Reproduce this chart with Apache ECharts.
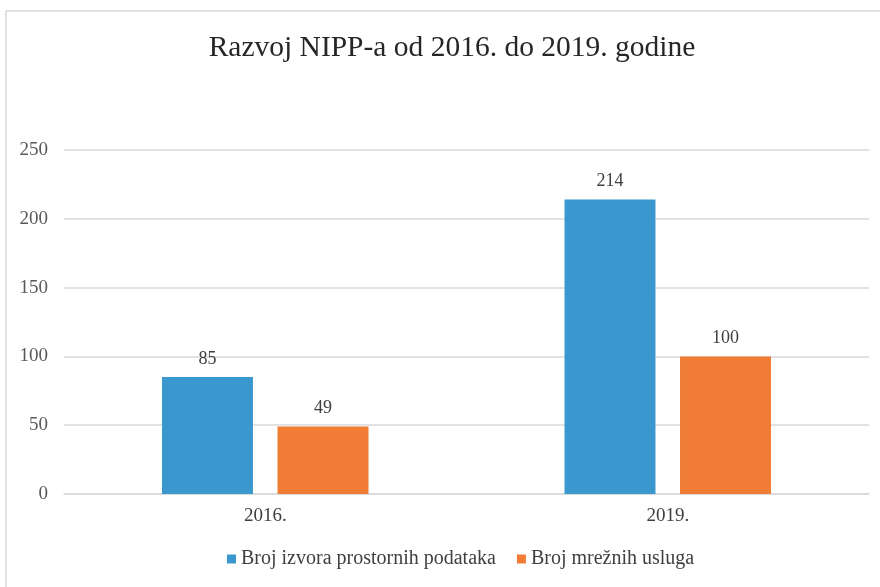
<!DOCTYPE html>
<html>
<head>
<meta charset="utf-8">
<script src="https://cdn.jsdelivr.net/npm/echarts@6/dist/echarts.min.js"></script>
<style>
  html, body { margin: 0; padding: 0; background: #fff; }
  #main { width: 880px; height: 587px; }
</style>
</head>
<body>
<div id="main"></div>
<script>
// podaci
var years = ['2016.', '2019.'];
var izvori = [85, 214];
var usluge = [49, 100];
var seriesNames = ['Broj izvora prostornih podataka', 'Broj mrežnih usluga'];

var chart = echarts.init(document.getElementById('main'));
var serif = '"Liberation Serif", "DejaVu Serif", serif';

var option = {
  backgroundColor: '#fff',
  animation: false,
  textStyle: { fontFamily: serif },
  graphic: [
    // okvir grafikona
    { type: 'line', shape: { x1: 6, y1: 11, x2: 880, y2: 11 }, style: { stroke: '#d9d9d9', lineWidth: 1.5 } },
    { type: 'line', shape: { x1: 6, y1: 11, x2: 6, y2: 587 }, style: { stroke: '#d9d9d9', lineWidth: 1.5 } }
  ],
  title: {
    text: 'Razvoj NIPP-a od 2016. do 2019. godine',
    left: 447,
    textAlign: 'center',
    top: 28,
    textStyle: { fontFamily: serif, fontSize: 29.5, fontWeight: 'normal', color: '#262626' }
  },
  legend: {
    bottom: 13,
    left: 222,
    itemWidth: 9,
    itemHeight: 9,
    itemGap: 21,
    icon: 'rect',
    textStyle: { fontFamily: serif, fontSize: 20, color: '#404040' },
    data: seriesNames
  },
  grid: { left: 64, right: 11, top: 150, bottom: 93, containLabel: false },
  xAxis: {
    type: 'category',
    data: years,
    axisLine: { lineStyle: { color: '#d9d9d9', width: 1.5 } },
    axisTick: { show: false },
    axisLabel: { fontFamily: serif, fontSize: 19, color: '#404040', margin: 13 }
  },
  yAxis: {
    type: 'value',
    min: 0,
    max: 250,
    interval: 50,
    axisLine: { show: false },
    axisTick: { show: false },
    axisLabel: { fontFamily: serif, fontSize: 19, color: '#595959', margin: 16 },
    splitLine: { lineStyle: { color: '#d9d9d9', width: 1.5 } }
  },
  series: [
    {
      name: seriesNames[0],
      type: 'bar',
      data: izvori,
      barWidth: '22.6%',
      barGap: '27%',
      itemStyle: { color: '#3b98cf' },
      label: { show: true, position: 'top', distance: 9, fontFamily: serif, fontSize: 18, color: '#404040' }
    },
    {
      name: seriesNames[1],
      type: 'bar',
      data: usluge,
      barWidth: '22.6%',
      itemStyle: { color: '#f07c35' },
      label: { show: true, position: 'top', distance: 9, fontFamily: serif, fontSize: 18, color: '#404040' }
    }
  ]
};

option && chart.setOption(option);
</script>
</body>
</html>
